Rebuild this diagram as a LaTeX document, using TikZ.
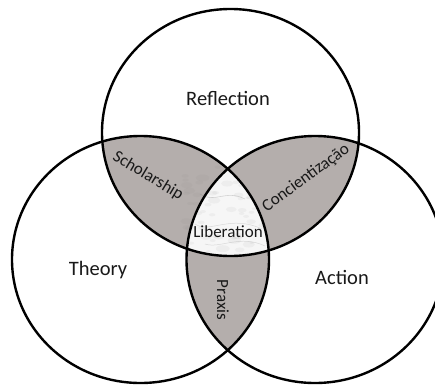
\documentclass[tikz,border=0pt]{standalone}
\usepackage{fontspec}
\setmainfont{Carlito}
\definecolor{lensgray}{RGB}{180,174,172}
\definecolor{txt}{RGB}{25,25,25}
\tikzset{
  ring/.style={draw=black,line width=2.4pt},
  big/.style={font=\fontsize{20.5}{24}\selectfont,text=txt,inner sep=0pt},
  small/.style={font=\fontsize{17}{20}\selectfont,text=txt,inner sep=0pt},
}
\newcommand{\topC}{(230.5,251.5) ellipse [x radius=128.5,y radius=123.5]}
\newcommand{\leftC}{(140.5,124.5) ellipse [x radius=128.5,y radius=123.5]}
\newcommand{\rightC}{(315,124.5) ellipse [x radius=128.5,y radius=123.5]}
\begin{document}
\begin{tikzpicture}[x=1pt,y=1pt]
\useasboundingbox (0,0) rectangle (435,384);
\fill[white] (0,0) rectangle (435,384);
% pairwise lenses
\begin{scope}\clip \topC; \fill[lensgray] \leftC; \fill[lensgray] \rightC; \end{scope}
\begin{scope}\clip \leftC; \fill[lensgray] \rightC; \end{scope}
% centre (marble)
\begin{scope}
  \clip \topC; \clip \leftC;
  \fill[white!93!gray] \rightC;
  \pgfmathsetseed{11}
  \foreach \i in {1,...,70}{
    \pgfmathsetmacro{\px}{185+90*rnd}
    \pgfmathsetmacro{\py}{125+95*rnd}
    \pgfmathsetmacro{\pr}{2+5*rnd}
    \fill[gray,opacity=0.07] (\px,\py) ellipse [x radius=\pr,y radius=0.5*\pr];
  }
  \draw[gray,opacity=0.3,line width=0.6pt] (200,190) .. controls (215,180) and (225,195) .. (245,185);
  \draw[gray,opacity=0.25,line width=0.5pt] (195,160) .. controls (210,150) and (230,170) .. (262,155);
  \draw[gray,opacity=0.25,line width=0.5pt] (205,140) .. controls (220,135) and (240,150) .. (265,138);
\end{scope}
% outlines
\draw[ring] \topC;
\draw[ring] \leftC;
\draw[ring] \rightC;
% labels
\node[big] (refl) at (228,286) {Reflection};
\node[big] (theo) at (98,114) {Theory};
\node[big] (act) at (342,107) {Action};
\node[small,rotate=-31] (schol) at (148,208) {Scholarship};
\node[small,rotate=36] (conc) at (306,206) {Concientização};
\node[small] (lib) at (228,152) {Liberation};
\node[small,rotate=-90] (prax) at (223,84) {Praxis};
\end{tikzpicture}
\end{document}
